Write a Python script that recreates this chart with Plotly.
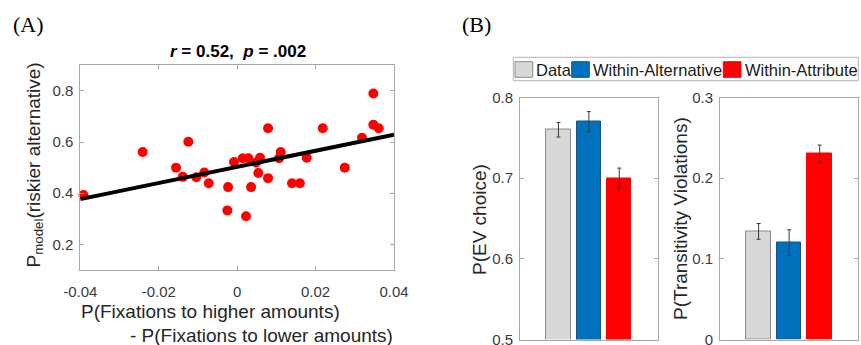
import plotly.graph_objects as go

# ---------------- data ----------------
scatter_x = [-0.0392, -0.0241, -0.01245, -0.01558, -0.01387, -0.0104, -0.00837, -0.00724,
             -0.00232, -0.0025, -0.0008, 0.00143, 0.00286, 0.00227, 0.00355, 0.0048,
             0.00584, 0.0054, 0.00788, 0.00788, 0.01069, 0.0111, 0.0140, 0.0160,
             0.01775, 0.02183, 0.02744, 0.03185, 0.03474, 0.03474, 0.03611]
scatter_y = [0.393, 0.561, 0.601, 0.500, 0.464, 0.4625, 0.481, 0.439,
             0.424, 0.333, 0.522, 0.537, 0.537, 0.310, 0.424, 0.520,
             0.539, 0.479, 0.654, 0.459, 0.537, 0.561, 0.439, 0.439,
             0.539, 0.654, 0.500, 0.6165, 0.790, 0.668, 0.654]
fit_x = [-0.04, 0.04]
fit_y = [0.377, 0.629]

a_xticks = [-0.04, -0.02, 0, 0.02, 0.04]
a_xticklabels = ["-0.04", "-0.02", "0", "0.02", "0.04"]
a_yticks = [0.2, 0.4, 0.6, 0.8]
a_yticklabels = ["0.2", "0.4", "0.6", "0.8"]

categories = ["Data", "Within-Alternative", "Within-Attribute"]
cat_pos = [1, 2, 3]
ev_choice = [0.760, 0.770, 0.700]
ev_err = [0.009, 0.0125, 0.0125]
trans_viol = [0.134, 0.120, 0.230]
trans_err = [0.0098, 0.016, 0.011]

b1_yticks = [0.5, 0.6, 0.7, 0.8]
b1_yticklabels = ["0.5", "0.6", "0.7", "0.8"]
b2_yticks = [0, 0.1, 0.2, 0.3]
b2_yticklabels = ["0", "0.1", "0.2", "0.3"]

# ---------------- styles ----------------
W, H = 861, 345
def X(px):
    return px / W
def Y(py):
    return (H - py) / H

SANS = "Liberation Sans, Arial, Helvetica, sans-serif"
SERIF = "Liberation Serif, Times New Roman, serif"
bar_fill = ["#d8d8d8", "#0072bd", "#ff0000"]
bar_edge = ["#8a8a8a", "#1d4f86", "#ff0000"]
axis_gray = "#a8a8a8"
tick_font = dict(family=SANS, size=15, color="#3a3a3a")

fig = go.Figure()

# Panel A
fig.add_trace(go.Scatter(x=scatter_x, y=scatter_y, mode="markers",
                         marker=dict(color="#ff0000", size=10, line=dict(width=0)),
                         cliponaxis=False, xaxis="x", yaxis="y", showlegend=False))
fig.add_trace(go.Scatter(x=fit_x, y=fit_y, mode="lines",
                         line=dict(color="black", width=4),
                         xaxis="x", yaxis="y", showlegend=False))

# Panel B left
fig.add_trace(go.Bar(x=cat_pos, y=ev_choice, width=0.8,
                     marker=dict(color=bar_fill, line=dict(color=bar_edge, width=1)),
                     error_y=dict(type="data", array=ev_err, color="#3a3a3a", thickness=1, width=2),
                     xaxis="x2", yaxis="y2", showlegend=False, name="EV"))
# Panel B right
fig.add_trace(go.Bar(x=cat_pos, y=trans_viol, width=0.8,
                     marker=dict(color=bar_fill, line=dict(color=bar_edge, width=1)),
                     error_y=dict(type="data", array=trans_err, color="#3a3a3a", thickness=1, width=2),
                     xaxis="x3", yaxis="y3", showlegend=False, name="TV"))

common_axis = dict(showline=True, linecolor=axis_gray, linewidth=1, mirror="allticks",
                   ticks="inside", ticklen=4, tickcolor=axis_gray, showgrid=False,
                   zeroline=False, tickfont=tick_font, fixedrange=True, automargin=False,
                   ticklabeloverflow="allow")

top_b, bot_b = 97.5, 339.5
fig.update_layout(
    template="none",
    width=W, height=H, autosize=False,
    margin=dict(l=0, r=0, t=0, b=0, pad=0),
    paper_bgcolor="white", plot_bgcolor="white",
    bargap=0, showlegend=False,
    xaxis=dict(domain=[X(80.3), X(394)], range=[-0.04, 0.04], tickvals=a_xticks,
               ticktext=a_xticklabels, anchor="y", ticklabelstandoff=8, **common_axis),
    yaxis=dict(domain=[Y(270), Y(65.3)], range=[0.1, 0.9], tickvals=a_yticks,
               ticktext=a_yticklabels, anchor="x", ticklabelstandoff=3, **common_axis),
    xaxis2=dict(domain=[X(520), X(657.7)], range=[-0.265, 4.265], anchor="y2",
                showticklabels=False, **{**common_axis, "ticks": ""}),
    yaxis2=dict(domain=[Y(bot_b), Y(top_b)], range=[0.5, 0.8], tickvals=b1_yticks,
                ticktext=b1_yticklabels, anchor="x2", ticklabelstandoff=3, **common_axis),
    xaxis3=dict(domain=[X(720), X(858.3)], range=[-0.265, 4.265], anchor="y3",
                showticklabels=False, **{**common_axis, "ticks": ""}),
    yaxis3=dict(domain=[Y(bot_b), Y(top_b)], range=[0, 0.3], tickvals=b2_yticks,
                ticktext=b2_yticklabels, anchor="x3", ticklabelstandoff=3, **common_axis),
)

ann = []
def add_text(text, px, py, size, family=SANS, color="#262626", angle=0, xanchor="center"):
    ann.append(dict(text=text, x=X(px), y=Y(py), xref="paper", yref="paper",
                    xanchor=xanchor, yanchor="middle", showarrow=False, textangle=angle,
                    font=dict(family=family, size=size, color=color)))

add_text("(A)", 28.5, 24, 22, family=SERIF, color="black")
add_text("(B)", 476, 24, 22, family=SERIF, color="black")
add_text("<b><i>r</i> = 0.52,\u00a0\u00a0<i>p</i> = .002</b>", 238, 51, 17, color="black")
add_text("P<sub>model</sub>(riskier alternative)", 34, 165.5, 19, angle=-90)
add_text("P(Fixations to higher amounts)", 210.5, 311.7, 19)
add_text("- P(Fixations to lower amounts)", 261, 335, 19)
add_text("P(EV choice)", 480, 220, 19, angle=-90)
add_text("P(Transitivity Violations)", 680, 219, 19, angle=-90)

# manual legend
shapes = [dict(type="rect", xref="paper", yref="paper", x0=X(513.3), x1=X(858.3),
               y0=Y(80.7), y1=Y(57.3), line=dict(color="#b4b4b4", width=1), fillcolor="white",
               layer="below")]
legend_boxes = [(515, 532.7), (571.7, 589.3), (723.3, 741)]
legend_text_x = [534.3, 591, 742.7]
for i, name in enumerate(categories):
    x0, x1 = legend_boxes[i]
    shapes.append(dict(type="rect", xref="paper", yref="paper", x0=X(x0), x1=X(x1),
                       y0=Y(77.3), y1=Y(61.7), fillcolor=bar_fill[i],
                       line=dict(color=bar_edge[i], width=1)))
    add_text(name, legend_text_x[i], 70, 16.5, color="#1a1a1a", xanchor="left")

fig.update_layout(annotations=ann, shapes=shapes)
fig.write_html("out.html", config={"displayModeBar": False},
               post_script="document.body.style.margin='0';document.body.style.overflow='hidden';")
